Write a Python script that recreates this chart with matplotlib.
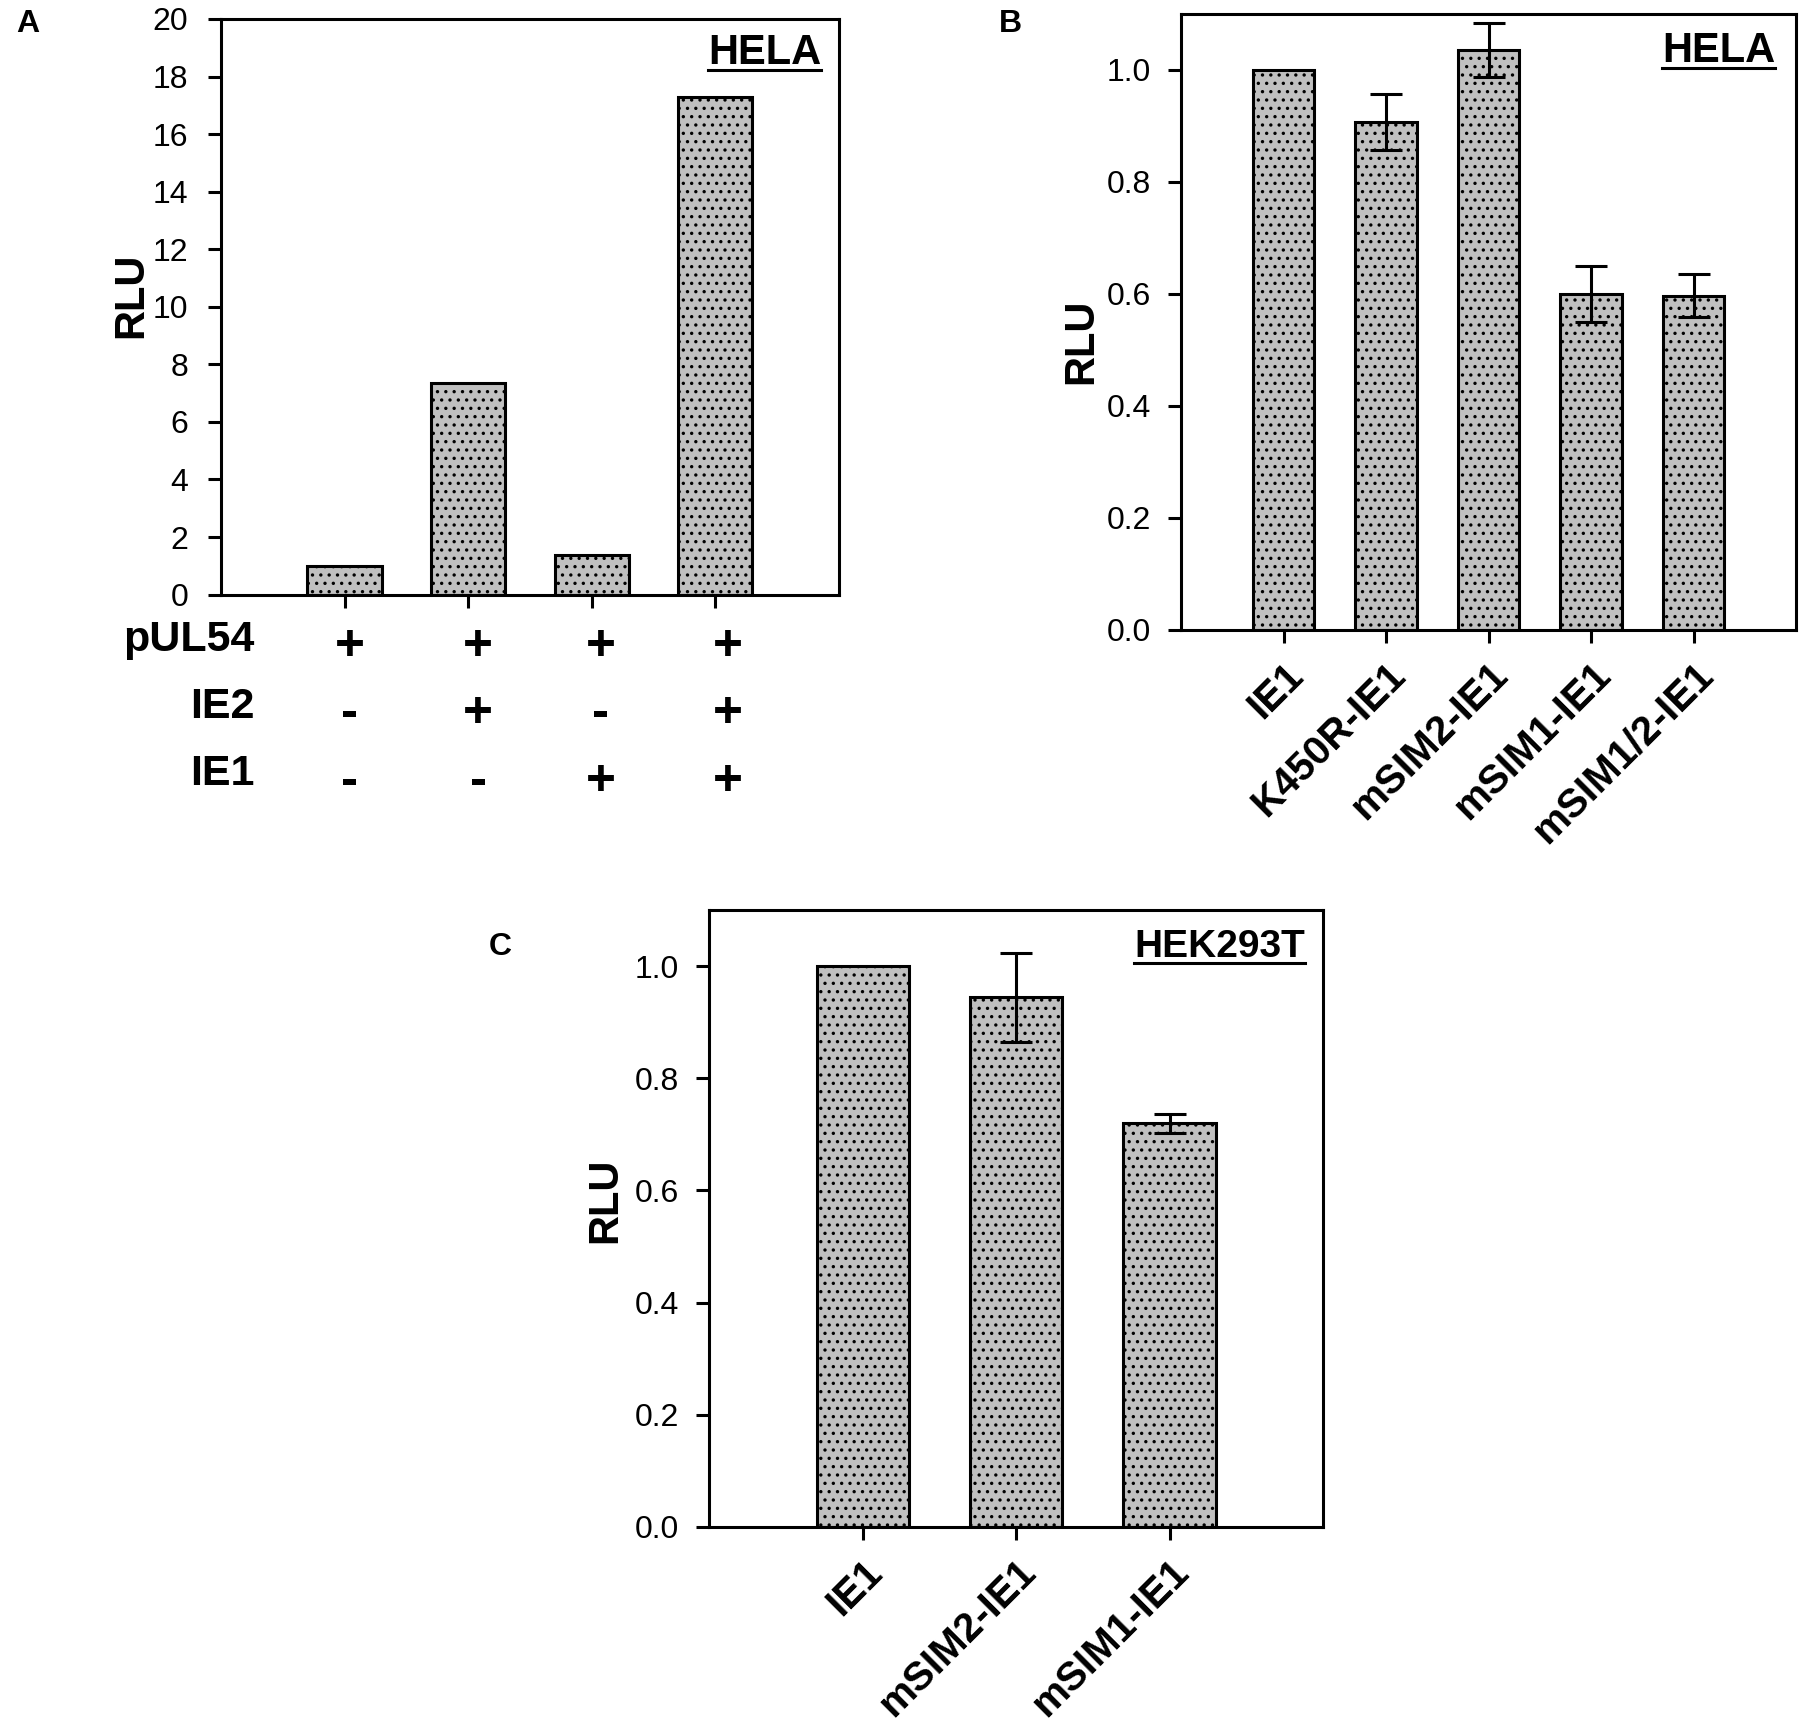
import numpy as np
import matplotlib
matplotlib.use("Agg")
from matplotlib import pyplot as plt
from matplotlib.lines import Line2D
from matplotlib.transforms import IdentityTransform, blended_transform_factory

plt.rcParams['font.family'] = ['Liberation Sans', 'DejaVu Sans']
plt.rcParams['hatch.linewidth'] = 1.2
plt.rcParams['hatch.color'] = 'black'

#%% data
a_values = [0.98, 7.34, 1.37, 17.29]
a_rows = ['pUL54', 'IE2', 'IE1']
a_signs = [['+', '+', '+', '+'],
           ['-', '+', '-', '+'],
           ['-', '-', '+', '+']]

b_labels = ['IE1', 'K450R-IE1', 'mSIM2-IE1', 'mSIM1-IE1', 'mSIM1/2-IE1']
b_values = [1.0, 0.907, 1.035, 0.600, 0.597]
b_err = [0.0, 0.050, 0.048, 0.050, 0.038]

c_labels = ['IE1', 'mSIM2-IE1', 'mSIM1-IE1']
c_values = [1.0, 0.944, 0.720]
c_err = [0.0, 0.079, 0.017]

LW = 2.2
FACE = '#c0c0c0'
TICKFS = 23
XLABFS = 29

fig = plt.figure(figsize=(18.02, 17.25), dpi=100)
axA = fig.add_axes([0.1226, 0.6553, 0.3430, 0.3337])
axB = fig.add_axes([0.6554, 0.6348, 0.3413, 0.3571])
axC = fig.add_axes([0.3935, 0.1148, 0.3407, 0.3577])


def style(ax):
    for s in ax.spines.values():
        s.set_linewidth(LW)
    ax.tick_params(axis='both', direction='out', length=9.5, width=LW,
                   labelsize=TICKFS, top=False, right=False)
    ax.tick_params(axis='y', pad=12)


def bars(ax, vals, err=None):
    x = np.arange(1, len(vals) + 1)
    ax.bar(x, vals, width=0.6, color=FACE, edgecolor='black',
           linewidth=LW, hatch='..', zorder=2)
    if err is not None:
        e = np.array(err)
        m = e > 0
        ax.errorbar(x[m], np.array(vals)[m], yerr=e[m], fmt='none',
                    ecolor='black', elinewidth=LW, capsize=11.5,
                    capthick=LW, zorder=3)
    return x


def cell_title(ax, txt, x, y, fs=30):
    t = ax.text(x, y, txt, transform=ax.transAxes, ha='right', va='baseline',
                fontsize=fs, fontweight='bold')
    return t


#%% panel A
xa = bars(axA, a_values)
axA.set_xlim(0, 5)
axA.set_ylim(0, 20)
axA.set_yticks(np.arange(0, 21, 2))
axA.set_xticks(xa)
axA.set_xticklabels([])
style(axA)
axA.tick_params(axis='y', pad=14)
axA.set_ylabel('RLU', fontsize=30, fontweight='bold')
axA.yaxis.set_label_coords(-0.112, 0.52)
tA = cell_title(axA, 'HELA', 0.971, 0.922)

tr = blended_transform_factory(axA.transData, axA.transAxes)
row_y = [-0.078, -0.195, -0.312]
sign_dx = [0.04, 0.08, 0.07, 0.1]
for r, name in enumerate(a_rows):
    axA.text(0.275, row_y[r], name, transform=tr, ha='right', va='center',
             fontsize=31, fontweight='bold')
    for i, s in enumerate(a_signs[r]):
        axA.text(xa[i] + sign_dx[i], row_y[r] - 0.012, s, transform=tr,
                 ha='center', va='center', fontsize=37, fontweight='bold')

#%% panel B
xb = bars(axB, b_values, b_err)
axB.set_xlim(0, 6)
axB.set_ylim(0, 1.1)
axB.set_yticks(np.arange(0, 1.01, 0.2))
axB.set_yticklabels(['%.1f' % v for v in np.arange(0, 1.01, 0.2)])
axB.set_xticks(xb)
axB.set_xticklabels(b_labels, rotation=45, ha='right', rotation_mode='anchor',
                    fontweight='bold')
style(axB)
axB.tick_params(axis='x', pad=9, labelsize=XLABFS)
axB.set_ylabel('RLU', fontsize=30, fontweight='bold')
axB.yaxis.set_label_coords(-0.130, 0.468)
tB = cell_title(axB, 'HELA', 0.966, 0.922)

#%% panel C
xc = bars(axC, c_values, c_err)
axC.set_xlim(0, 4)
axC.set_ylim(0, 1.1)
axC.set_yticks(np.arange(0, 1.01, 0.2))
axC.set_yticklabels(['%.1f' % v for v in np.arange(0, 1.01, 0.2)])
axC.set_xticks(xc)
axC.set_xticklabels(c_labels, rotation=45, ha='right', rotation_mode='anchor',
                    fontweight='bold')
style(axC)
axC.tick_params(axis='x', pad=9, labelsize=XLABFS)
axC.set_ylabel('RLU', fontsize=30, fontweight='bold')
axC.yaxis.set_label_coords(-0.137, 0.53)
tC = cell_title(axC, 'HEK293T', 0.971, 0.924, fs=28)

#%% panel letters
fig.text(0.0155, 0.986, 'A', fontsize=23, fontweight='bold', ha='center', va='center')
fig.text(0.561, 0.986, 'B', fontsize=23, fontweight='bold', ha='center', va='center')
fig.text(0.2775, 0.451, 'C', fontsize=23, fontweight='bold', ha='center', va='center')

#%% underline titles
fig.canvas.draw()
r = fig.canvas.get_renderer()
for t in [tA, tB, tC]:
    bb = t.get_window_extent(r)
    ybase = t.get_transform().transform(t.get_position())[1]
    fig.add_artist(Line2D([bb.x0, bb.x1], [ybase - 6, ybase - 6], color='black',
                          linewidth=2.2, transform=IdentityTransform()))

fig.savefig('out.png', dpi=100)
